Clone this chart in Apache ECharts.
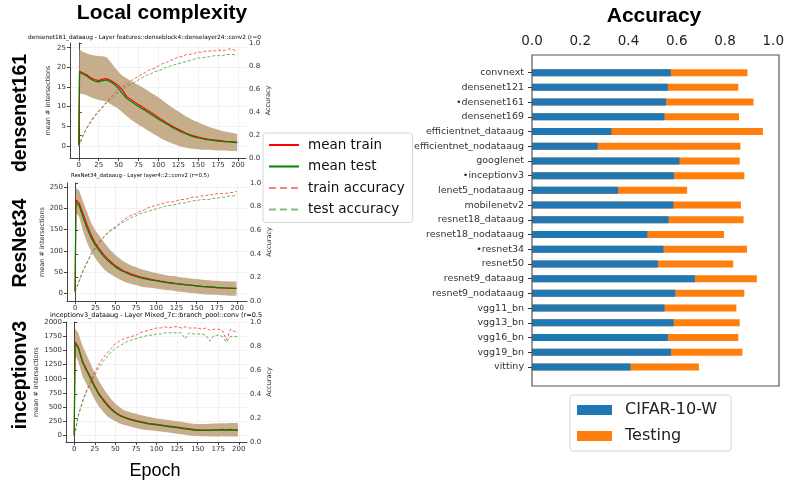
<!DOCTYPE html>
<html>
<head>
<meta charset="utf-8">
<script src="https://cdn.jsdelivr.net/npm/echarts@6/dist/echarts.min.js"></script>
<style>html,body{margin:0;padding:0;background:#fff;}#c{width:787px;height:482px;}</style>
</head>
<body>
<div id="c"></div>
<script>
// ---------- DATA ----------
const epochs = [0,1,5,10,15,20,25,30,35,40,45,50,55,60,65,70,75,80,85,90,95,100,105,110,115,120,125,130,135,140,145,150,155,160,165,170,175,180,185,190,195,199];
const xTicks = [0,25,50,75,100,125,150,175,200];

// densenet161
const dnTrainMean = [0.3,19.0,18.6,18.1,17.3,16.9,16.6,17.0,17.1,16.7,16.0,15.3,14.2,12.6,11.9,11.2,10.5,9.9,9.2,8.6,7.9,7.2,6.6,5.9,5.3,4.7,4.2,3.7,3.2,2.8,2.5,2.2,2.0,1.8,1.6,1.5,1.4,1.3,1.1,1.1,1.0,0.9];
const dnTestMean  = [0.2,18.7,18.3,17.8,17.0,16.5,16.3,16.6,16.8,16.3,15.6,14.6,13.3,12.1,11.4,10.7,10.0,9.4,8.8,8.1,7.5,6.8,6.2,5.6,5.0,4.4,3.9,3.4,3.0,2.6,2.3,2.0,1.8,1.6,1.5,1.3,1.2,1.1,1.0,1.0,0.9,0.8];
const dnUpper = [0.5,24.6,24.0,23.6,23.2,23.0,22.9,22.8,22.6,21.4,20.0,18.8,17.8,17.2,16.6,16.0,15.5,14.9,14.3,13.6,13.0,12.4,11.6,10.8,10.1,9.4,8.8,8.1,7.5,6.9,6.4,6.0,5.5,5.1,4.7,4.4,4.1,3.8,3.6,3.4,3.2,3.0];
const dnLower = [0,13.3,13.2,12.9,12.4,12.0,11.7,11.5,11.3,10.6,10.0,9.4,8.5,7.6,6.8,6.1,5.4,4.8,4.1,3.5,2.9,2.3,1.7,1.2,0.8,0.4,0.0,-0.3,-0.5,-0.7,-0.8,-0.9,-1.0,-1.0,-1.0,-1.1,-1.1,-1.2,-1.2,-1.3,-1.3,-1.4];
const dnTrainAcc = [0.10,0.12,0.19,0.26,0.32,0.37,0.41,0.45,0.49,0.53,0.56,0.59,0.62,0.64,0.67,0.69,0.71,0.73,0.75,0.77,0.78,0.80,0.82,0.83,0.85,0.86,0.88,0.88,0.90,0.90,0.91,0.92,0.92,0.93,0.93,0.93,0.94,0.93,0.94,0.95,0.94,0.93];
const dnTestAcc  = [0.10,0.12,0.19,0.26,0.31,0.36,0.40,0.44,0.48,0.51,0.54,0.57,0.60,0.62,0.64,0.66,0.68,0.70,0.72,0.73,0.75,0.76,0.77,0.79,0.80,0.81,0.82,0.83,0.84,0.85,0.86,0.87,0.87,0.88,0.88,0.89,0.89,0.89,0.90,0.90,0.90,0.89];
const dnTicks = [0,5,10,15,20,25];

// ResNet34
const rnTrainMean = [5,220,212,186,160,136,118,104,92,82,73,65,59,53,49,45,42,39,37,35,33,31,29,28,26,25,23,22,21,20,19,18,17,16,15,15,14,13,13,12,12,12];
const rnTestMean  = [5,214,206,178,152,130,113,100,88,78,70,62,56,51,47,43,40,37,35,33,31,30,28,27,25,24,23,22,21,20,19,18,17,16,16,15,14,14,13,13,12,12];
const rnUpper = [8,248,242,215,190,165,148,135,122,110,99,90,82,75,70,65,62,58,55,53,50,48,46,44,42,41,40,38,37,36,35,34,33,32,31,30,30,29,29,28,28,28];
const rnLower = [2,190,180,145,118,98,82,70,58,50,44,38,33,28,25,22,20,17,15,14,13,12,10,9,8,7,5,4,3,2,1,0,-1,-2,-2,-3,-3,-4,-4,-5,-5,-5];
const rnTrainAcc = [0.08,0.10,0.17,0.26,0.33,0.40,0.45,0.50,0.54,0.58,0.61,0.63,0.66,0.69,0.71,0.73,0.74,0.76,0.77,0.79,0.80,0.81,0.82,0.83,0.84,0.84,0.85,0.86,0.86,0.87,0.88,0.88,0.89,0.89,0.90,0.90,0.91,0.91,0.91,0.92,0.92,0.93];
const rnTestAcc  = [0.08,0.10,0.17,0.26,0.33,0.40,0.45,0.50,0.54,0.57,0.60,0.62,0.65,0.67,0.69,0.71,0.72,0.74,0.75,0.76,0.77,0.78,0.79,0.80,0.81,0.81,0.82,0.83,0.83,0.84,0.85,0.85,0.86,0.86,0.86,0.87,0.87,0.88,0.88,0.89,0.89,0.90];
const rnTicks = [0,50,100,150,200,250];

// inceptionv3
const icTrainMean = [0,1650,1560,1310,1160,1020,870,740,640,550,470,410,360,330,300,280,260,245,230,215,205,195,185,175,165,155,145,135,125,115,105,100,95,95,95,100,100,105,100,105,100,95];
const icTestMean  = [0,1630,1540,1290,1140,1000,850,720,620,530,455,395,350,320,290,270,250,235,220,205,195,185,175,165,155,145,135,125,115,105,95,90,90,88,90,92,95,98,95,98,95,90];
const icUpper = [0,1890,1800,1580,1420,1260,1100,960,840,730,640,560,500,450,420,400,380,360,345,330,315,300,290,280,270,260,250,240,230,215,205,200,200,200,205,210,210,215,215,220,220,220];
const icLower = [0,1420,1300,1050,900,780,630,510,420,340,290,250,210,190,170,150,130,115,100,90,85,80,70,60,50,40,30,20,10,0,-10,-10,-15,-15,-20,-20,-20,-15,-20,-20,-20,-20];
const icTrainAcc = [0.05,0.08,0.22,0.34,0.43,0.50,0.58,0.65,0.70,0.74,0.78,0.82,0.84,0.86,0.87,0.88,0.89,0.91,0.92,0.93,0.94,0.95,0.95,0.96,0.95,0.96,0.96,0.95,0.96,0.95,0.95,0.95,0.94,0.95,0.93,0.94,0.94,0.93,0.85,0.94,0.92,0.92];
const icTestAcc  = [0.05,0.08,0.22,0.33,0.42,0.49,0.56,0.62,0.67,0.71,0.75,0.78,0.80,0.82,0.84,0.85,0.86,0.87,0.88,0.89,0.89,0.90,0.90,0.91,0.91,0.91,0.91,0.91,0.86,0.91,0.90,0.90,0.90,0.89,0.84,0.89,0.89,0.88,0.83,0.88,0.88,0.88];
const icTicks = [0,250,500,750,1000,1250,1500,1750,2000];

// Accuracy bar chart
const models = ['convnext','densenet121','•densenet161','densenet169','efficientnet_dataaug','efficientnet_nodataaug','googlenet','•inceptionv3','lenet5_nodataaug','mobilenetv2','resnet18_dataaug','resnet18_nodataaug','•resnet34','resnet50','resnet9_dataaug','resnet9_nodataaug','vgg11_bn','vgg13_bn','vgg16_bn','vgg19_bn','vittiny'];
const cifar10w = [0.575,0.563,0.556,0.549,0.329,0.272,0.611,0.588,0.357,0.586,0.566,0.478,0.545,0.522,0.675,0.594,0.549,0.587,0.563,0.576,0.408];
const testing  = [0.893,0.855,0.918,0.858,0.957,0.864,0.861,0.880,0.643,0.866,0.877,0.796,0.891,0.834,0.932,0.880,0.847,0.861,0.855,0.872,0.692];

// ---------- CHART ----------
const FONT = 'DejaVu Sans';
const AX = '#444';
const BAND = '#c6ad8b';
const RED_D = 'rgba(255,50,50,0.8)';
const GRN_D = 'rgba(60,165,60,0.8)';
const panels = [
  {tm:dnTrainMean, te:dnTestMean, up:dnUpper, lo:dnLower, ta:dnTrainAcc, tea:dnTestAcc, ticks:dnTicks,
   grid:{left:70, top:43, width:176, height:115}, ymin:-3.1, ymax:26.2, xmin:-11, xmax:210},
  {tm:rnTrainMean, te:rnTestMean, up:rnUpper, lo:rnLower, ta:rnTrainAcc, tea:rnTestAcc, ticks:rnTicks,
   grid:{left:67, top:183, width:180, height:118}, ymin:-17.5, ymax:259.4, xmin:-10, xmax:212},
  {tm:icTrainMean, te:icTestMean, up:icUpper, lo:icLower, ta:icTrainAcc, tea:icTestAcc, ticks:icTicks,
   grid:{left:66, top:322, width:181, height:120}, ymin:-116, ymax:2000, xmin:-10, xmax:210}
];

const grids = [], xAxes = [], yAxes = [], series = [];
const pairs = arr => epochs.map((e, i) => [e, arr[i]]);
const lblStyle = {fontFamily: FONT, fontSize: 7, color: '#333'};

panels.forEach((p, gi) => {
  grids.push(Object.assign({containLabel: false}, p.grid));
  xAxes.push({
    type: 'value', gridIndex: gi, min: p.xmin, max: p.xmax,
    axisLine: {show: true, onZero: false, lineStyle: {color: AX, width: 1}},
    axisTick: {show: true, length: 3, customValues: xTicks, lineStyle: {color: AX}},
    axisLabel: Object.assign({customValues: xTicks, margin: 4, formatter: v => String(v)}, lblStyle),
    splitLine: {show: true, lineStyle: {color: '#eeeeee', width: 0.8}}
  });
  yAxes.push({
    type: 'value', gridIndex: gi, min: p.ymin, max: p.ymax, position: 'left',
    name: 'mean # intersections', nameLocation: 'middle', nameGap: 18, nameRotate: 90,
    nameTextStyle: {fontFamily: FONT, fontSize: 6.5, color: '#333'},
    axisLine: {show: true, onZero: false, lineStyle: {color: AX, width: 1}},
    axisTick: {show: true, length: 3, customValues: p.ticks, lineStyle: {color: AX}},
    axisLabel: Object.assign({customValues: p.ticks, margin: 4, formatter: v => String(v)}, lblStyle),
    splitLine: {show: true, lineStyle: {color: '#eeeeee', width: 0.8}}
  });
  yAxes.push({
    type: 'value', gridIndex: gi, min: 0, max: 1, interval: 0.2, position: 'right',
    name: 'Accuracy', nameLocation: 'middle', nameGap: 19, nameRotate: 90,
    nameTextStyle: {fontFamily: FONT, fontSize: 6.5, color: '#333'},
    axisLine: {show: true, lineStyle: {color: AX, width: 1}},
    axisTick: {show: true, length: 3, lineStyle: {color: AX}},
    axisLabel: Object.assign({margin: 3, formatter: v => v.toFixed(1)}, lblStyle),
    splitLine: {show: false}
  });
  const L = gi * 2, R = gi * 2 + 1;
  series.push({
    type: 'custom', name: 'band' + gi, xAxisIndex: gi, yAxisIndex: L,
    data: epochs.map((e, i) => [e, p.up[i], p.lo[i]]),
    encode: {x: 0, y: [1, 2]},
    clip: true, silent: true, z: 1,
    renderItem: (params, api) => {
      if (params.dataIndex !== 0) return null;
      const top = epochs.map((e, i) => api.coord([e, p.up[i]]));
      const bot = epochs.map((e, i) => api.coord([e, p.lo[i]])).reverse();
      return {type: 'polygon', shape: {points: top.concat(bot)}, style: {fill: BAND}};
    }
  });
  series.push({
    type: 'line', name: 'train accuracy', xAxisIndex: gi, yAxisIndex: R, data: pairs(p.ta),
    symbol: 'none', color: RED_D,
    lineStyle: {color: RED_D, width: 1, type: [3, 2]}, z: 2
  });
  series.push({
    type: 'line', name: 'test accuracy', xAxisIndex: gi, yAxisIndex: R, data: pairs(p.tea),
    symbol: 'none', color: GRN_D,
    lineStyle: {color: GRN_D, width: 1, type: [3, 2]}, z: 2
  });
  series.push({
    type: 'line', name: 'mean train', xAxisIndex: gi, yAxisIndex: L, data: pairs(p.tm),
    symbol: 'none', color: '#ff0000', lineStyle: {color: '#ff0000', width: 1.2}, z: 3
  });
  series.push({
    type: 'line', name: 'mean test', xAxisIndex: gi, yAxisIndex: L, data: pairs(p.te),
    symbol: 'none', color: '#008000', lineStyle: {color: '#008000', width: 1.2}, z: 4
  });
});

// bar chart grid
grids.push({left: 532, right: 8, top: 65.3, bottom: 107.7, containLabel: false});
xAxes.push({
  type: 'value', gridIndex: 3, position: 'top', min: 0, max: 1, interval: 0.2,
  axisLine: {show: false}, axisTick: {show: false}, splitLine: {show: false},
  axisLabel: {margin: 17, fontFamily: FONT, fontSize: 13.5, color: '#222', formatter: v => v.toFixed(1)}
});
yAxes.push({
  type: 'category', gridIndex: 3, data: models, inverse: true,
  axisLine: {show: false},
  axisTick: {show: true, alignWithLabel: true, length: 4, lineStyle: {color: '#333'}},
  axisLabel: {margin: 8, fontFamily: FONT, fontSize: 9.5, color: '#333'}
});
series.push({
  type: 'bar', name: 'Testing', xAxisIndex: 3, yAxisIndex: 6, data: testing,
  barWidth: 7, barGap: '-100%', itemStyle: {color: '#ff7f0e'}, z: 2
});
series.push({
  type: 'bar', name: 'CIFAR-10-W', xAxisIndex: 3, yAxisIndex: 6, data: cifar10w,
  barWidth: 7, barGap: '-100%', itemStyle: {color: '#1f77b4'}, z: 3
});

const txt = (text, x, y, font, rot, align) => ({
  type: 'text', x: x, y: y, rotation: rot || 0, silent: true,
  style: {text: text, font: font, fill: '#000', textAlign: align || 'center', textVerticalAlign: 'middle'}
});

const option = {
  animation: false,
  backgroundColor: '#fff',
  grid: grids, xAxis: xAxes, yAxis: yAxes, series: series,
  legend: [
    {
      data: [
        {name: 'mean train', lineStyle: {width: 2, color: '#ff0000'}},
        {name: 'mean test', lineStyle: {width: 2, color: '#008000'}},
        {name: 'train accuracy', lineStyle: {width: 2, type: [7, 4], color: 'rgba(255,60,60,0.65)'}},
        {name: 'test accuracy', lineStyle: {width: 2, type: [7, 4], color: 'rgba(60,160,60,0.65)'}}
      ],
      orient: 'vertical', left: 263, top: 133,
      itemWidth: 30, itemHeight: 14, itemGap: 7.5,
      padding: [5, 8, 6, 5],
      itemStyle: {opacity: 0},
      borderColor: '#d6d6d6', borderWidth: 1, borderRadius: 3,
      textStyle: {fontFamily: FONT, fontSize: 13.5, color: '#111', padding: [0, 0, 0, 4]},
      selectedMode: false
    },
    {
      data: ['CIFAR-10-W', 'Testing'],
      orient: 'vertical', left: 570, top: 395,
      icon: 'rect', itemWidth: 35, itemHeight: 10, itemGap: 10,
      padding: [7, 14, 7, 7],
      borderColor: '#d6d6d6', borderWidth: 1, borderRadius: 3,
      textStyle: {fontFamily: FONT, fontSize: 16, color: '#222', padding: [0, 0, 0, 8]},
      selectedMode: false
    }
  ],
  graphic: [
    txt('Local complexity', 162, 13, 'bold 21px "Liberation Sans"'),
    txt('Accuracy', 654, 16, 'bold 21px "Liberation Sans"'),
    txt('densenet161', 21, 113, 'bold 19.5px "Liberation Sans"', Math.PI / 2),
    txt('ResNet34', 21, 243, 'bold 19.5px "Liberation Sans"', Math.PI / 2),
    txt('inceptionv3', 21, 375, 'bold 19.5px "Liberation Sans"', Math.PI / 2),
    txt('Epoch', 155, 471, '18px "Liberation Sans"'),
    txt('densenet161_dataaug - Layer features::denseblock4::denselayer24::conv2 (r=0', 28, 37, '5.8px "DejaVu Sans"', 0, 'left'),
    txt('ResNet34_dataaug - Layer layer4::2::conv2 (r=0.5)', 140, 176, '5.4px "DejaVu Sans"'),
    txt('inceptionv3_dataaug - Layer Mixed_7c::branch_pool::conv (r=0.5', 50, 315, '6.5px "DejaVu Sans"', 0, 'left'),
    {
      type: 'rect', silent: true, z: 10,
      shape: {x: 532, y: 55, width: 247, height: 331},
      style: {fill: 'none', stroke: '#555', lineWidth: 1.2}
    }
  ]
};

const chart = echarts.init(document.getElementById('c'), null, {renderer: 'canvas'});
chart.setOption(option);
</script>
</body>
</html>
